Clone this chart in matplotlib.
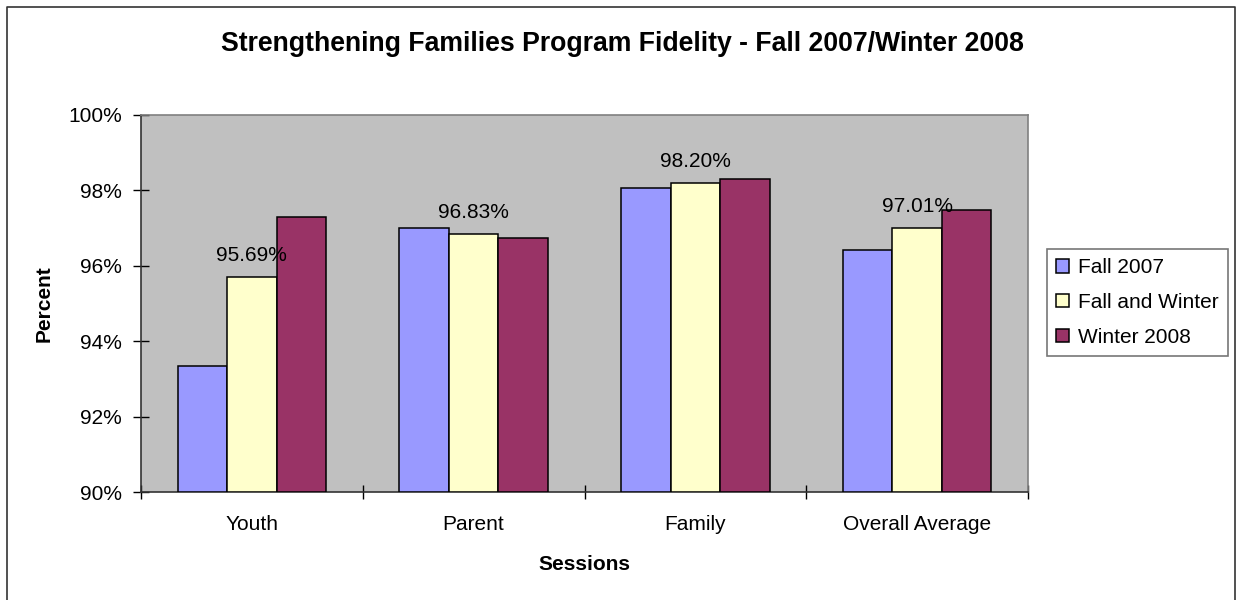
import numpy as np
import matplotlib
matplotlib.use('Agg')
import matplotlib.pyplot as plt
from matplotlib.lines import Line2D

plt.rcParams['font.family'] = ['Liberation Sans', 'DejaVu Sans']

# data
categories = ['Youth', 'Parent', 'Family', 'Overall Average']
series_names = ['Fall 2007', 'Fall and Winter', 'Winter 2008']
fall_2007 = [93.34, 96.99, 98.07, 96.42]
fall_and_winter = [95.69, 96.83, 98.20, 97.01]
winter_2008 = [97.30, 96.73, 98.29, 97.48]
colors = ['#9999FF', '#FFFFCC', '#993366']

fig = plt.figure(figsize=(12.36, 6), dpi=100)
ax = fig.add_axes([141/1236, 1 - 492.3/600, (1028 - 141)/1236, (492.3 - 114.7)/600])
ax.set_facecolor('#C0C0C0')

x = np.arange(len(categories))
w = 0.2236
all_series = [fall_2007, fall_and_winter, winter_2008]
for i, (vals, name, col) in enumerate(zip(all_series, series_names, colors)):
    bars = ax.bar(x + (i - 1) * w, np.array(vals) - 90, width=w, bottom=90,
                  color=col, edgecolor='black', linewidth=1.1, label=name, zorder=3)
    if name == 'Fall and Winter':
        for b, v in zip(bars, vals):
            ax.annotate('%.2f%%' % v, (b.get_x() + b.get_width()/2, v),
                        xytext=(0, 11.5), textcoords='offset points',
                        ha='center', va='baseline', fontsize=15, zorder=5)

ax.set_xlim(-0.5, 3.5)
ax.set_ylim(90, 100)
ax.set_yticks([90, 92, 94, 96, 98, 100])
ax.set_yticklabels(['90%', '92%', '94%', '96%', '98%', '100%'])
ax.tick_params(axis='y', direction='inout', length=11, width=1, labelsize=15, pad=8.3)

# category boundaries get tick marks, names sit in the middle
ax.set_xticks(np.arange(-0.5, 4, 1))
ax.set_xticklabels([])
ax.set_xticks(x, minor=True)
ax.set_xticklabels(categories, minor=True)
ax.tick_params(axis='x', which='major', direction='inout', length=10, width=1)
ax.tick_params(axis='x', which='minor', length=0, labelsize=15, pad=16)

for s in ['left', 'bottom']:
    ax.spines[s].set_color('#333333')
    ax.spines[s].set_linewidth(1.2)
for s in ['top', 'right']:
    ax.spines[s].set_color('#808080')
    ax.spines[s].set_linewidth(1.2)

ax.set_xlabel('Sessions', fontsize=15, fontweight='bold', labelpad=15.6)
ax.set_ylabel('Percent', fontsize=15, fontweight='bold', labelpad=10.5)

fig.text(622/1236, 1 - 44/600, 'Strengthening Families Program Fidelity - Fall 2007/Winter 2008',
         ha='center', va='center', fontsize=19.2, fontweight='bold')

leg = fig.legend(loc='upper left', bbox_to_anchor=(1047/1236, 1 - 249/600), borderaxespad=0,
                 fontsize=15, frameon=True, fancybox=False, handlelength=0.6, handleheight=0.6,
                 handletextpad=0.45, labelspacing=0.75, borderpad=0.45)
leg.get_frame().set_edgecolor('#555555')
leg.get_frame().set_linewidth(1.2)

# outer chart border (left, top, right)
bx0, bx1, by1 = 7/1236, 1235/1236, 1 - 7/600
fig.add_artist(Line2D([bx0, bx0, bx1, bx1], [0, by1, by1, 0], color='#333333', linewidth=1.2,
                      transform=fig.transFigure))

fig.savefig('out.png', dpi=100)
